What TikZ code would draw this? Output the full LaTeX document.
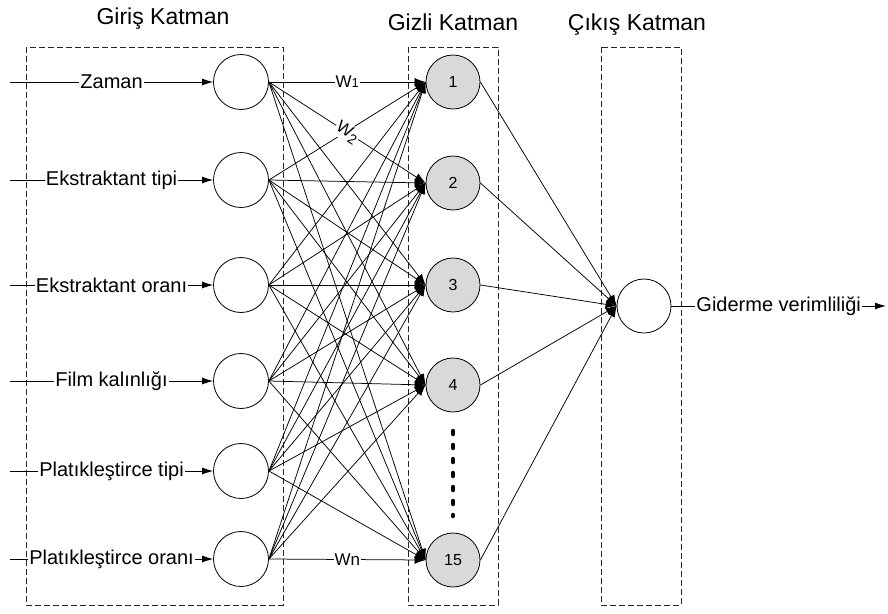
\documentclass[tikz,border=0pt]{standalone}
\usepackage{fontspec}
\setmainfont{Liberation Sans}
\usetikzlibrary{arrows.meta}
\definecolor{hidgray}{RGB}{217,217,217}
\begin{document}
\begin{tikzpicture}[x=1pt,y=-1pt,
  inp/.style={circle,draw,line width=0.8pt,minimum size=55pt,inner sep=0pt},
  hid/.style={circle,draw,line width=0.8pt,fill=hidgray,minimum size=54pt,inner sep=0pt,font=\fontsize{16}{16}\selectfont},
  outn/.style={circle,draw,line width=0.8pt,minimum size=54pt,inner sep=0pt},
  layerbox/.style={draw=black!85,line width=0.8pt,dash pattern=on 6pt off 3pt},
  lbl/.style={fill=white,inner sep=1pt,font=\fontsize{20}{24}\selectfont},
  wlbl/.style={fill=white,inner sep=1pt,font=\fontsize{17}{20}\selectfont},
  title/.style={font=\fontsize{23}{26}\selectfont,anchor=base},
  arr/.style={line width=0.9pt,-{Latex[length=11pt,width=7pt]}},
  conn/.style={line width=0.75pt,-{Latex[length=11pt,width=8pt]}}
]
\useasboundingbox (0,0) rectangle (888,613);

% layer boxes
\draw[layerbox] (26,47) rectangle (283,605);
\draw[layerbox] (408,47) rectangle (498,605);
\draw[layerbox] (601,47) rectangle (681,605);

% titles
\node[title] (t1) at (163,24) {Giriş Katman};
\node[title] (t2) at (453,30) {Gizli Katman};
\node[title] (t3) at (637,30) {Çıkış Katman};

% input nodes
\node[inp] (i1) at (241,82) {};
\node[inp] (i2) at (241,180) {};
\node[inp] (i3) at (241,285) {};
\node[inp] (i4) at (241,381) {};
\node[inp] (i5) at (241,471) {};
\node[inp] (i6) at (241,559) {};

% hidden nodes
\node[hid] (h1) at (453,82) {1};
\node[hid] (h2) at (453,183) {2};
\node[hid] (h3) at (453,285) {3};
\node[hid] (h4) at (453,385) {4};
\node[hid] (h15) at (453,560) {15};

% output node
\node[outn] (o) at (644,306) {};

% input start points
\coordinate (s1) at (10,82);
\coordinate (s2) at (10,180);
\coordinate (s3) at (10,285);
\coordinate (s4) at (10,381);
\coordinate (s5) at (10,471);
\coordinate (s6) at (10,559);
\coordinate (e) at (886,306);

\draw[arr] (s1) -- node[lbl] {Zaman} (i1.west);
\draw[arr] (s2) -- node[lbl] {Ekstraktant tipi} (i2.west);
\draw[arr] (s3) -- node[lbl] {Ekstraktant oranı} (i3.west);
\draw[arr] (s4) -- node[lbl] {Film kalınlığı} (i4.west);
\draw[arr] (s5) -- node[lbl] {Platıkleştirce tipi} (i5.west);
\draw[arr] (s6) -- node[lbl] {Platıkleştirce oranı} (i6.west);

% input -> hidden
\foreach \i in {1,...,6}
  \foreach \h in {1,2,3,4,15}
    \draw[conn] (i\i.east) -- (h\h.west);

% weight labels
\path (i1.east) -- node[wlbl] {W{\fontsize{13}{13}\selectfont 1}} (h1.west);
\path (i1.east) -- node[wlbl,sloped] {W\raisebox{-4pt}{\fontsize{14}{14}\selectfont 2}} (h2.west);
\path (i6.east) -- node[wlbl] {Wn} (h15.west);

% hidden -> output
\foreach \h in {1,2,3,4,15}
  \draw[conn] (h\h.east) -- (o.west);

% output arrow
\draw[arr] (o.east) -- node[lbl] {Giderme verimliliği} (e);

% ellipsis dots
\draw[line width=4.5pt,line cap=round,dash pattern=on 3pt off 11pt] (453,431) -- (453,516);
\end{tikzpicture}
\end{document}
